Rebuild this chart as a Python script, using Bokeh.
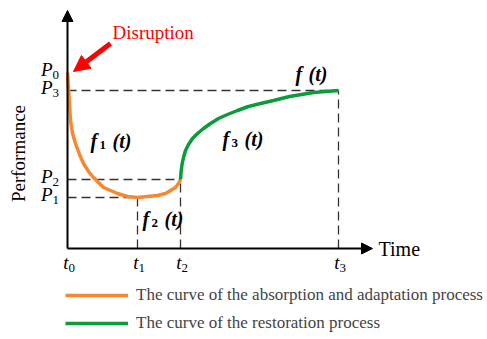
from bokeh.plotting import figure
from bokeh.models import Range1d, Arrow, NormalHead, Legend, LegendItem
from bokeh.core.properties import value
from bokeh.embed import file_html
from bokeh.resources import INLINE

# ---- data (schematic units) ----
t_ticks = [0, 70, 113, 271]          # t0, t1, t2, t3
t_subs = ["0", "1", "2", "3"]
p_levels = [176, 158, 69, 51]        # P0, P3, P2, P1
p_subs = ["0", "3", "2", "1"]

abs_x = [0, 1, 2, 3, 5, 8, 12, 16, 21, 26, 36, 50, 60, 70, 80, 90, 98, 103, 108, 111, 113]
abs_y = [176, 160, 144, 128, 115, 105, 94, 85, 77, 71, 61, 55, 52, 51, 52, 53, 55, 58, 61, 65, 69]

res_x = [113, 113.5, 114.5, 116, 118, 121, 125, 130, 136, 143, 151, 160, 170, 181, 193, 206, 222, 246, 271]
res_y = [69, 76, 84, 91, 98, 104, 110, 115, 120, 125, 130, 134, 138, 142, 145, 148, 152, 156, 158]

legend_labels = ["The curve of the absorption and adaptation process",
                 "The curve of the restoration process"]

ORANGE = "#F7882F"
GREEN = "#0A9B3A"
SERIF = "Liberation Serif"

p = figure(width=487, height=339, output_backend="svg", toolbar_location=None,
           x_range=Range1d(-67, 420), y_range=Range1d(-91, 248),
           x_axis_type=None, y_axis_type=None, min_border=0)
p.grid.visible = False
p.outline_line_color = None

dash = dict(line_color="#333333", line_width=1.3, line_dash="9 5")
for tx, py in [(t_ticks[3], p_levels[1]), (t_ticks[2], p_levels[2]), (t_ticks[1], p_levels[3])]:
    p.line([0, tx], [py, py], **dash)
    p.line([tx, tx], [0, py], **dash)

r1 = p.line(abs_x, abs_y, line_color=ORANGE, line_width=3.5)
r2 = p.line(res_x, res_y, line_color=GREEN, line_width=3.5)

p.add_layout(Arrow(x_start=0, y_start=0, x_end=0, y_end=238, line_width=2, line_color="black",
                   end=NormalHead(size=11, fill_color="black", line_color="black")))
p.add_layout(Arrow(x_start=0, y_start=0, x_end=305, y_end=0, line_width=2, line_color="black",
                   end=NormalHead(size=11, fill_color="black", line_color="black")))
p.add_layout(Arrow(x_start=43, y_start=205, x_end=6, y_end=177, line_width=5, line_color="red",
                   end=NormalHead(size=16, fill_color="red", line_color="red")))

def lab(x, y, text, size, style="normal", color="black", align="left", angle=0):
    p.text(x=[x], y=[y], text=[text], text_font=value(SERIF), text_font_size=size,
           text_font_style=style, text_color=color, text_align=align,
           text_baseline="middle", angle=angle)

lab(45, 216, "Disruption", "19px", color="red")
lab(-49, 95, "Performance", "19px", align="center", angle=1.5708)
lab(311, 0, "Time", "20px")

for py, s in zip(p_levels, p_subs):
    lab(-15, py + 3, "P", "19px", "italic", align="right")
    lab(-15, py - 2, s, "13px")

for tx, s in zip(t_ticks, t_subs):
    lab(tx + 1, -14, "t", "19px", "italic", align="right")
    lab(tx + 1, -19, s, "13px")

for fx, fy, s in [(23, 108, "1"), (75, 30, "2"), (155, 110, "3")]:
    lab(fx, fy, "f", "20px", "bold italic")
    lab(fx + 9, fy - 4, s, "13px", "bold")
    lab(fx + 22, fy, "(t)", "20px", "bold italic")
lab(228, 175, "f", "20px", "bold italic")
lab(241, 175, "(t)", "20px", "bold italic")

legend = Legend(items=[LegendItem(label=legend_labels[0], renderers=[r1]),
                       LegendItem(label=legend_labels[1], renderers=[r2])],
                location=(65, 6), orientation="vertical",
                glyph_width=63, glyph_height=16, label_height=16, spacing=8,
                label_standoff=8, padding=0, margin=0,
                label_text_font=SERIF, label_text_font_size="17px",
                border_line_alpha=0, background_fill_alpha=0)
p.add_layout(legend)

open("out.html", "w").write(file_html(p, INLINE))
